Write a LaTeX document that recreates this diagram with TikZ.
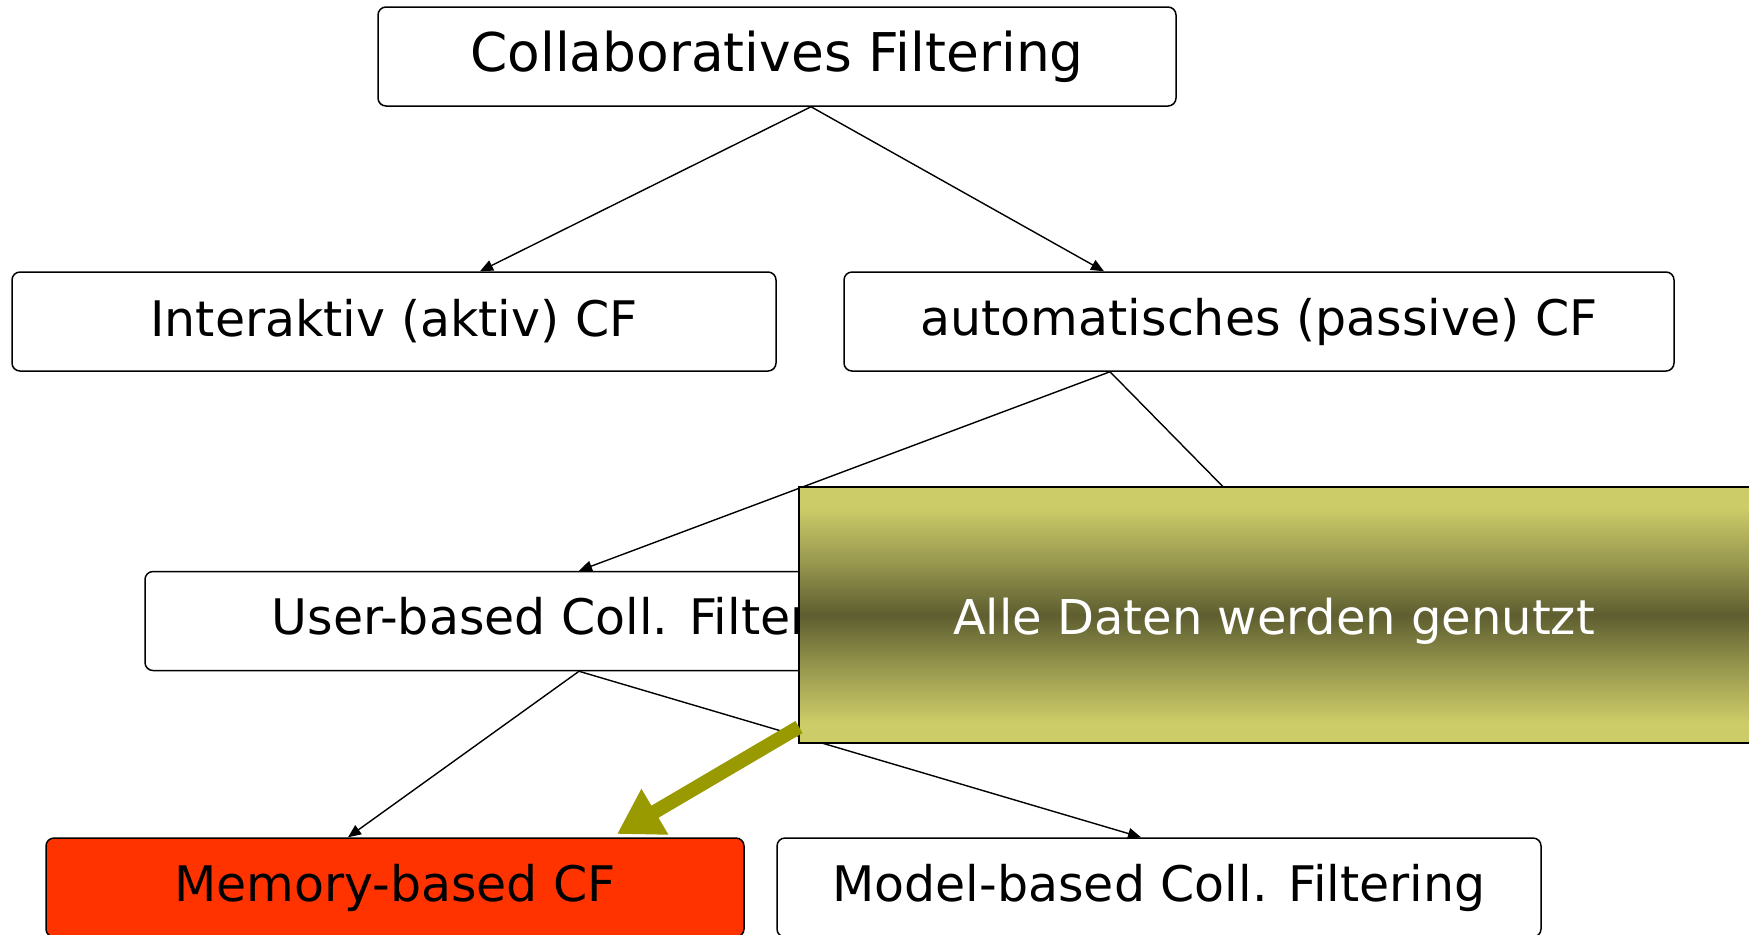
\documentclass[tikz,border=0pt]{standalone}
\usepackage{fontspec}
\setmainfont{DejaVu Sans}
\usetikzlibrary{arrows.meta,calc}

\definecolor{oliveLight}{RGB}{204,204,104}
\definecolor{oliveMid}{RGB}{150,150,78}
\definecolor{oliveDark}{RGB}{94,94,48}
\definecolor{oliveArrow}{RGB}{153,153,0}
\definecolor{memRed}{RGB}{255,51,0}

% light at the edges, dark band through the middle
% (the filled path maps onto the 25bp..75bp part of the shading)
\pgfdeclareverticalshading{notefade}{100bp}{%
  color(0bp)=(oliveLight); color(25bp)=(oliveLight); color(29bp)=(oliveLight);
  color(40bp)=(oliveMid); color(50bp)=(oliveDark); color(60bp)=(oliveMid);
  color(71bp)=(oliveLight); color(75bp)=(oliveLight); color(100bp)=(oliveLight)}

\tikzset{
  box/.style={draw=black, line width=0.75pt, rounded corners=4pt,
    minimum height=49.5pt, inner sep=0pt,
    font=\fontsize{24.5}{30}\selectfont},
  titlebox/.style={box, font=\fontsize{26.7}{32}\selectfont},
  link/.style={draw=black, line width=0.7pt,
    -{Triangle[length=6.5pt,width=5.5pt]}},
  plainlink/.style={draw=black, line width=0.7pt},
  note/.style={draw=black, line width=0.75pt, shading=notefade},
  notelabel/.style={text=white, font=\fontsize{24}{30}\selectfont},
  bigarrow/.style={draw=oliveArrow, line width=7pt,
    -{Triangle[length=22pt,width=25pt]}}
}

\begin{document}
\begin{tikzpicture}[x=0.5pt, y=-0.5pt]
  \useasboundingbox (0,0) rectangle (1749,934);

  % hierarchy of boxes
  \node[titlebox, minimum width=399pt] (top) at (777,56.5) {Collaboratives Filtering};
  \node[box, minimum width=382pt] (inter) at (394,321.5) {Interaktiv (aktiv) CF};
  \node[box, minimum width=415pt] (auto)  at (1259,321.5) {automatisches (passive) CF};
  \node[box, minimum width=434pt] (user)  at (579,621)   {User-based Coll. Filtering};
  \node[box, minimum width=349pt, fill=memRed] (mem) at (395,887.5) {Memory-based CF};
  \node[box, minimum width=382pt] (model) at (1159,887.5) {Model-based Coll. Filtering};

  % connectors
  \coordinate (topout)  at ($(top.south)+(34,0)$);
  \coordinate (autoout) at ($(auto.south)+(-149,0)$);
  \coordinate (hidden)  at (1354,620);

  \draw[link] (topout) -- ($(inter.north)+(86,0)$);
  \draw[link] (topout) -- ($(auto.north)+(-155,0)$);
  \draw[link] (autoout) -- (user.north);
  \draw[plainlink] (autoout) -- (hidden);
  \draw[link] (user.south) -- ($(mem.north)+(-47,0)$);
  \draw[link] (user.south) -- ($(model.north)+(-18,0)$);

  % overlay note
  \path[note] (799,487) rectangle (1760,743);
  \node[notelabel] (notetext) at (1274,621) {Alle Daten werden genutzt};
  \coordinate (notecorner) at (799,727);
  \coordinate (notetip) at (617,834);
  \draw[bigarrow] (notecorner) -- (notetip);
\end{tikzpicture}
\end{document}
